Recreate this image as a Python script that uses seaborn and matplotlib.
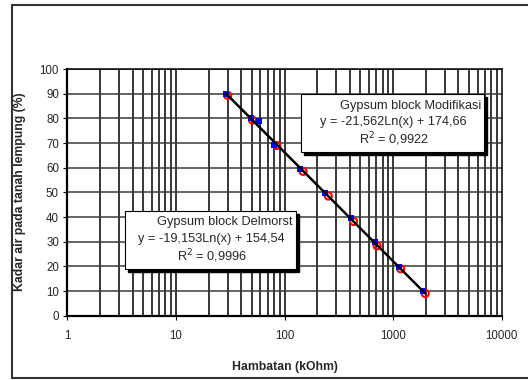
import numpy as np
import pandas as pd
import matplotlib
matplotlib.use("Agg")
import matplotlib.pyplot as plt
from matplotlib.patches import Rectangle
from matplotlib.lines import Line2D
import seaborn as sns

sns.set_style("white")
plt.rcParams['font.family'] = ['Liberation Sans', 'DejaVu Sans']

# Data
delmorst_x = [28.7, 49, 58.5, 79.6, 140, 237, 408, 678, 1141, 1905]
delmorst_y = [90, 80, 79, 69, 59.5, 49.6, 39.5, 29.7, 19.6, 10]
modif_x = [30, 50.7, 84.9, 148, 253, 432, 712, 1174, 1977]
modif_y = [89.3, 79.3, 69, 58.5, 48.5, 38.2, 28.3, 19, 9]

label_delmorst = ["Gypsum block Delmorst", "y = -19,153Ln(x) + 154,54", "R$^2$ = 0,9996"]
label_modif = ["Gypsum block Modifikasi", "y = -21,562Ln(x) + 174,66", "R$^2$ = 0,9922"]

x_ticks = [1, 10, 100, 1000, 10000]
x_ticklabels = ["1", "10", "100", "1000", "10000"]
y_ticks = list(range(0, 101, 10))

df = pd.DataFrame({
    "x": modif_x + delmorst_x,
    "y": modif_y + delmorst_y,
    "seri": ["Modifikasi"] * len(modif_x) + ["Delmorst"] * len(delmorst_x),
})

W, H = 528, 380
fig = plt.figure(figsize=(W / 100, H / 100), dpi=100)
ax = fig.add_axes([67.3 / W, 1 - 315.7 / H, (501.7 - 67.3) / W, (315.7 - 69) / H])

ax.set_xscale("log")
ax.set_xlim(1, 10000)
ax.set_ylim(0, 100)

# grid
for dec in [1, 10, 100, 1000]:
    for m in range(1, 10):
        ax.axvline(dec * m, color="black", lw=1.1, zorder=0)
for yv in y_ticks:
    ax.axhline(yv, color="#3a3a3a", lw=1.1, zorder=0)

# markers
sns.scatterplot(data=df[df.seri == "Modifikasi"], x="x", y="y", ax=ax,
                marker="o", s=26, facecolor="none", edgecolor="#ff0000",
                linewidth=1.5, zorder=3, legend=False)
sns.scatterplot(data=df[df.seri == "Delmorst"], x="x", y="y", ax=ax,
                marker="s", s=14, color="#0000ff", edgecolor="#0000ff",
                linewidth=0, zorder=4, legend=False)

# logarithmic trend lines (fitted)
for xs, ys in [(delmorst_x, delmorst_y), (modif_x, modif_y)]:
    xs = np.array(xs, dtype=float)
    b, a = np.polyfit(np.log(xs), np.array(ys, dtype=float), 1)
    xx = np.array([xs.min(), xs.max()])
    ax.plot(xx, b * np.log(xx) + a, color="black", lw=1.5, zorder=5)

ax.set_xticks(x_ticks)
ax.set_xticklabels(x_ticklabels)
ax.xaxis.set_minor_locator(matplotlib.ticker.NullLocator())
ax.set_yticks(y_ticks)
ax.tick_params(axis="both", labelsize=8.3, direction="out", length=3, width=0.8,
               color="black", pad=3, bottom=True, left=True)
ax.tick_params(axis="x", pad=7)
for s in ax.spines.values():
    s.set_color("black")
    s.set_linewidth(1.1)
ax.spines["left"].set_linewidth(1.6)
ax.spines["bottom"].set_linewidth(1.6)
ax.set_xlabel("")
ax.set_ylabel("")

fig.text(285 / W, 1 - 367 / H, "Hambatan (kOhm)", ha="center", va="center",
         fontsize=8.8, fontweight="bold")
fig.text(20 / W, 1 - 192 / H, "Kadar air pada tanah lempung (%)", ha="center",
         va="center", rotation=90, fontsize=8.8, fontweight="bold")

# outer frame
fig.add_artist(Line2D([11.5 / W, 1.0], [1 - 5 / H, 1 - 5 / H], color="#333333", lw=1.5,
                      transform=fig.transFigure))
fig.add_artist(Line2D([11.5 / W, 11.5 / W], [1 - 5 / H, 1 - 377.5 / H], color="#333333",
                      lw=1.5, transform=fig.transFigure))
fig.add_artist(Line2D([11.5 / W, 1.0], [1 - 377.5 / H, 1 - 377.5 / H], color="#333333",
                      lw=1.5, transform=fig.transFigure))


def box(x0, y0, x1, y1, lines, centers):
    # shadow
    fig.add_artist(Rectangle(((x0 + 3) / W, 1 - (y1 + 3) / H), (x1 - x0) / W, (y1 - y0) / H,
                             transform=fig.transFigure, facecolor="black",
                             edgecolor="black", zorder=10))
    fig.add_artist(Rectangle((x0 / W, 1 - y1 / H), (x1 - x0) / W, (y1 - y0) / H,
                             transform=fig.transFigure, facecolor="white",
                             edgecolor="black", lw=0.8, zorder=11))
    for t, (cx, cy) in zip(lines, centers):
        fig.text(cx / W, 1 - cy / H, t, ha="center", va="center", fontsize=9.2,
                 zorder=12)


box(300.7, 94, 484, 151.7, label_modif, [(410.9, 105.5), (393, 122.5), (394, 139.5)])
box(125, 211, 295.6, 269, label_delmorst, [(224.6, 222), (211, 239), (211.8, 256.5)])

fig.savefig("out.png", dpi=100)
